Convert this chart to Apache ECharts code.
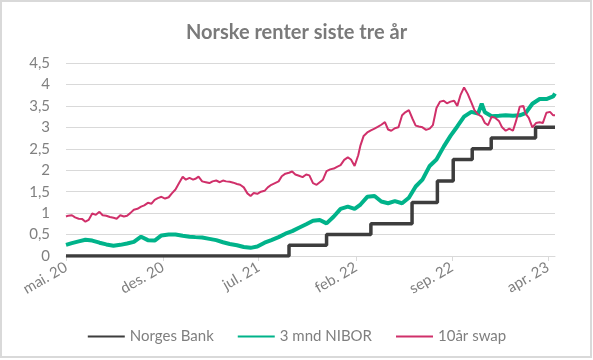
<!DOCTYPE html>
<html>
<head>
<meta charset="utf-8">
<script src="https://cdn.jsdelivr.net/npm/echarts@6/dist/echarts.min.js"></script>
<style>html,body{margin:0;padding:0;background:#fff}#c{width:593px;height:360px}</style>
</head>
<body>
<div id="c"></div>
<script>
// ---- data ----
var xTickDates = ['2020-05-19','2020-12-19','2021-07-19','2022-02-19','2022-09-19','2023-04-19'];
var xTickLabels = ['mai. 20','des. 20','jul. 21','feb. 22','sep. 22','apr. 23'];
var yTicks = [0,0.5,1,1.5,2,2.5,3,3.5,4,4.5];

var nbDates = ['2020-05-19','2021-09-24','2021-12-16','2022-03-24','2022-06-23','2022-08-18','2022-09-22','2022-11-03','2022-12-15','2023-03-23','2023-05-05'];
var nbValues = [0,0.25,0.5,0.75,1.25,1.75,2.25,2.5,2.75,3.0,3.0];

var niborDates = ['2020-05-19','2020-06-01','2020-06-16','2020-07-01','2020-07-16','2020-08-01','2020-08-16','2020-09-01','2020-09-16','2020-10-01','2020-10-16','2020-11-01','2020-11-16','2020-12-01','2020-12-16',
'2021-01-01','2021-01-16','2021-02-01','2021-02-16','2021-03-01','2021-03-16','2021-04-01','2021-04-16','2021-05-01','2021-05-16','2021-06-01','2021-06-16','2021-07-01','2021-07-16','2021-08-01','2021-08-16','2021-09-01','2021-09-16','2021-10-01','2021-10-16','2021-11-01','2021-11-16','2021-12-01','2021-12-16',
'2022-01-01','2022-01-16','2022-02-01','2022-02-16','2022-03-01','2022-03-16','2022-04-01','2022-04-16','2022-05-01','2022-05-16','2022-06-01','2022-06-16','2022-07-01','2022-07-16','2022-08-01','2022-08-16','2022-09-01','2022-09-16','2022-10-01','2022-10-16','2022-11-01','2022-11-16','2022-11-24','2022-12-01','2022-12-16',
'2023-01-01','2023-01-16','2023-02-01','2023-02-16','2023-03-01','2023-03-16','2023-04-01','2023-04-16','2023-05-01','2023-05-05'];

var niborValues = [0.26,0.30,0.34,0.38,0.36,0.31,0.27,0.24,0.26,0.29,0.33,0.45,0.37,0.36,0.48,
0.50,0.50,0.47,0.45,0.44,0.43,0.40,0.37,0.32,0.28,0.25,0.21,0.19,0.22,0.31,0.37,0.44,0.52,0.58,0.66,0.74,0.82,0.84,0.76,
0.92,1.10,1.15,1.10,1.20,1.38,1.40,1.27,1.23,1.28,1.23,1.36,1.62,1.78,2.10,2.25,2.55,2.80,3.02,3.25,3.36,3.32,3.55,3.35,3.26,
3.27,3.28,3.27,3.28,3.33,3.55,3.66,3.66,3.72,3.79];

var swapDates = ['2020-05-19','2020-05-24',
'2020-06-01','2020-06-08','2020-06-16','2020-06-24','2020-07-01','2020-07-08','2020-07-16','2020-07-24','2020-08-01','2020-08-08','2020-08-16','2020-08-24',
'2020-09-01','2020-09-08','2020-09-16','2020-09-24','2020-10-01','2020-10-08','2020-10-16','2020-10-24','2020-11-01','2020-11-08','2020-11-16','2020-11-24',
'2020-12-01','2020-12-08','2020-12-16','2020-12-24',
'2021-01-01','2021-01-08','2021-01-16','2021-01-24','2021-02-01','2021-02-08','2021-02-16','2021-02-24','2021-03-01','2021-03-08','2021-03-16','2021-03-24',
'2021-04-01','2021-04-08','2021-04-16','2021-04-24','2021-05-01','2021-05-08','2021-05-16','2021-05-24','2021-06-01','2021-06-08','2021-06-16','2021-06-24',
'2021-07-01','2021-07-08','2021-07-16','2021-07-24','2021-08-01','2021-08-08','2021-08-16','2021-08-24','2021-09-01','2021-09-08','2021-09-16','2021-09-24',
'2021-10-01','2021-10-08','2021-10-16','2021-10-24','2021-11-01','2021-11-08','2021-11-16','2021-11-24','2021-12-01','2021-12-08','2021-12-16','2021-12-24',
'2022-01-01','2022-01-08','2022-01-16','2022-01-24','2022-02-01','2022-02-08','2022-02-16','2022-02-24','2022-03-01','2022-03-08','2022-03-16','2022-03-24',
'2022-04-01','2022-04-08','2022-04-16','2022-04-24','2022-05-01','2022-05-08','2022-05-16','2022-05-24','2022-06-01','2022-06-08','2022-06-16','2022-06-24',
'2022-07-01','2022-07-08','2022-07-16','2022-07-24','2022-08-01','2022-08-08','2022-08-16','2022-08-24','2022-09-01','2022-09-08','2022-09-16','2022-09-24',
'2022-10-01','2022-10-08','2022-10-16','2022-10-24','2022-11-01','2022-11-08','2022-11-16','2022-11-24','2022-12-01','2022-12-08','2022-12-16','2022-12-24',
'2023-01-01','2023-01-08','2023-01-16','2023-01-24','2023-02-01','2023-02-08','2023-02-16','2023-02-24','2023-03-01','2023-03-08','2023-03-16','2023-03-24',
'2023-04-01','2023-04-08','2023-04-16','2023-04-24','2023-05-01','2023-05-05'];

var swapValues = [0.92,0.94,
0.95,0.90,0.87,0.86,0.80,0.84,0.99,0.96,1.03,0.95,0.94,0.91,
0.89,0.87,0.95,0.92,0.94,1.00,1.08,1.10,1.15,1.18,1.24,1.22,
1.31,1.35,1.38,1.34,
1.37,1.46,1.55,1.70,1.85,1.78,1.82,1.78,1.80,1.85,1.74,1.72,
1.70,1.74,1.76,1.72,1.76,1.74,1.73,1.71,1.68,1.66,1.60,1.46,
1.40,1.47,1.45,1.50,1.52,1.60,1.66,1.70,1.74,1.86,1.92,1.94,
1.97,1.90,1.87,1.84,1.90,1.88,1.70,1.66,1.72,1.78,1.98,2.02,
2.04,2.08,2.12,2.24,2.30,2.25,2.10,2.35,2.58,2.80,2.88,2.93,
2.97,3.01,3.06,3.12,2.95,2.92,2.98,3.00,3.28,3.35,3.40,3.20,
3.04,3.02,3.00,2.94,2.97,3.05,3.45,3.60,3.62,3.56,3.60,3.62,
3.50,3.75,3.93,3.78,3.58,3.40,3.30,3.25,3.10,3.05,3.25,3.22,
3.15,3.00,2.92,2.97,2.92,3.15,3.48,3.50,3.32,3.22,3.00,3.10,
3.12,3.10,3.34,3.36,3.28,3.28];

var seriesNames = ['Norges Bank','3 mnd NIBOR','10år swap'];
var titleText = 'Norske renter siste tre år';

// ---- build ----
function ts(s){var p=s.split('-');return Date.UTC(+p[0],+p[1]-1,+p[2]);}
function pairs(ds,vs){return ds.map(function(d,i){return [ts(d),vs[i]];});}
var tickTs = xTickDates.map(ts);
var FONT = 'Lato';

var chart = echarts.init(document.getElementById('c'), null, {renderer:'canvas'});
chart.setOption({
  animation:false,
  backgroundColor:'#ffffff',
  textStyle:{fontFamily:FONT},
  title:{text:titleText,left:'center',top:18,
    textStyle:{fontFamily:FONT,fontSize:20,fontWeight:'bold',color:'#7a7a7a'}},
  graphic:[{type:'rect',shape:{x:1,y:1,width:590,height:356},style:{fill:'none',stroke:'#d9d9d9',lineWidth:2},silent:true}],
  grid:{left:66,right:38,top:63,bottom:104},
  legend:{top:324,left:'center',itemGap:23,itemWidth:37,itemHeight:14,
    itemStyle:{opacity:0},
    textStyle:{fontFamily:FONT,fontSize:15,color:'#7f7f7f'},
    data:seriesNames},
  xAxis:{type:'value',min:ts('2020-05-19'),max:ts('2023-05-05'),scale:true,
    axisLine:{show:true,lineStyle:{color:'#d9d9d9',width:1}},
    axisTick:{show:true,customValues:tickTs,length:5,lineStyle:{color:'#d9d9d9'}},
    splitLine:{show:false},
    axisLabel:{customValues:tickTs,rotate:30,margin:10,fontFamily:FONT,fontSize:15,color:'#808080',
      formatter:function(v){var i=tickTs.indexOf(v);return i>=0?xTickLabels[i]:'';}}},
  yAxis:{type:'value',min:yTicks[0],max:yTicks[yTicks.length-1],interval:0.5,
    axisLine:{show:false},axisTick:{show:false},
    splitLine:{lineStyle:{color:'#d9d9d9',width:1}},
    axisLabel:{margin:16,fontFamily:FONT,fontSize:15,color:'#808080',
      formatter:function(v){return String(v).replace('.',',');}}},
  series:[
    {name:seriesNames[0],type:'line',step:'end',symbol:'none',data:pairs(nbDates,nbValues),
      lineStyle:{color:'#3d3d3d',width:3.5},itemStyle:{color:'#3d3d3d'},z:3},
    {name:seriesNames[1],type:'line',symbol:'none',data:pairs(niborDates,niborValues),
      lineStyle:{color:'#00b38a',width:4},itemStyle:{color:'#00b38a'},z:2},
    {name:seriesNames[2],type:'line',symbol:'none',data:pairs(swapDates,swapValues),
      lineStyle:{color:'#d0306a',width:2},itemStyle:{color:'#d0306a'},z:4}
  ]
});
</script>
</body>
</html>
